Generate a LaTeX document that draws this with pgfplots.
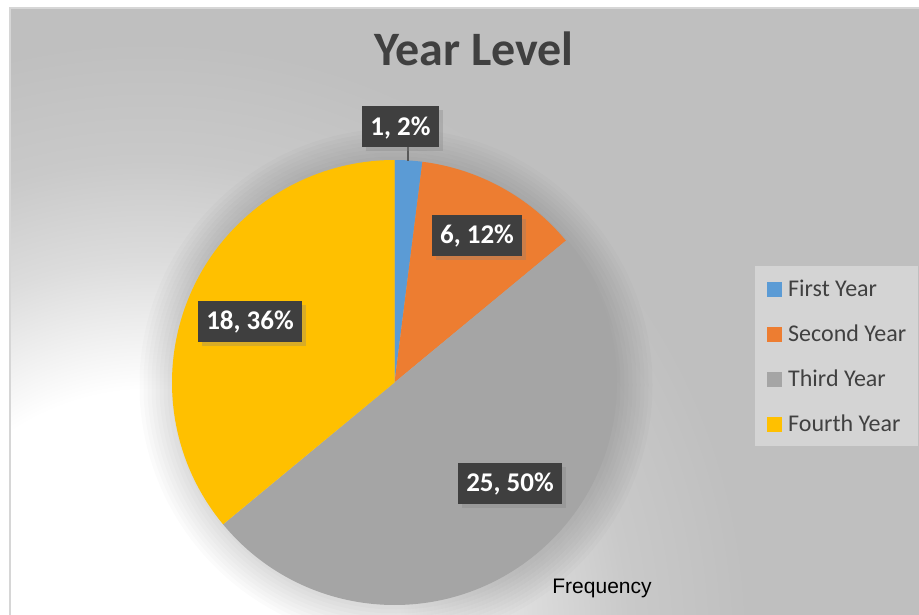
\documentclass[border=0pt]{standalone}
\usepackage{pgfplots}
\pgfplotsset{compat=1.18}
\usepackage{pgfplotstable}
\usepackage{fontspec}
\setmainfont{Carlito}
\newfontfamily\arialfont{Liberation Sans}
\usetikzlibrary{shadows}

\definecolor{cFirst}{HTML}{5B9BD5}
\definecolor{cSecond}{HTML}{ED7D31}
\definecolor{cThird}{HTML}{A5A5A5}
\definecolor{cFourth}{HTML}{FFC000}
\definecolor{chartbg}{HTML}{BFBFBF}
\definecolor{glowA}{HTML}{DCDCDC}
\definecolor{glowB}{HTML}{C9C9C9}
\definecolor{labelbg}{HTML}{3F3F3F}
\definecolor{textgray}{HTML}{404040}
\definecolor{legendbg}{HTML}{D4D4D4}
\definecolor{framegray}{HTML}{D6D6D6}

% white glow in the lower left of the chart area, used at its natural size
\pgfdeclareradialshading{glow}{\pgfpoint{0bp}{0bp}}{color(0bp)=(white); color(125bp)=(white); color(190bp)=(glowA); color(240bp)=(glowB); color(300bp)=(chartbg); color(320bp)=(chartbg)}

\pgfplotstableread{
year   count
First  1
Second 6
Third  25
Fourth 18
}\yeartable

% one slice of the pie, angles taken from the table
\def\pieslice#1#2{\fill[#2] (axis cs:394.5,382.5) -- ++(\csname angS#1\endcsname:111.25bp)
  arc[start angle=\csname angS#1\endcsname, end angle=\csname angE#1\endcsname, radius=111.25bp] -- cycle;}

\tikzset{datalabel/.style={fill=labelbg, text=white,
  font=\fontsize{13.5bp}{16bp}\selectfont\bfseries,
  inner xsep=4bp, inner ysep=5.9bp, text height=8.7bp, text depth=0bp,
  drop shadow={shadow xshift=2bp, shadow yshift=-2bp, opacity=0.3}}}

\begin{document}
\begin{tikzpicture}
% total and slice angles, clockwise from twelve o'clock
\xdef\total{0}
\foreach \i in {0,...,3}{
  \pgfplotstablegetelem{\i}{count}\of\yeartable
  \pgfmathsetmacro\tmpsum{\total+\pgfplotsretval}
  \xdef\total{\tmpsum}
}
\xdef\cum{90}
\foreach \i in {0,...,3}{
  \pgfplotstablegetelem{\i}{count}\of\yeartable
  \pgfmathsetmacro\nxt{\cum-360*\pgfplotsretval/\total}
  \expandafter\xdef\csname angS\i\endcsname{\cum}
  \expandafter\xdef\csname angE\i\endcsname{\nxt}
  \xdef\cum{\nxt}
}

\begin{axis}[
  at={(0,0)}, anchor=south west,
  width=459.5bp, height=307.5bp, scale only axis,
  xmin=0, xmax=919, ymin=0, ymax=615, y dir=reverse,
  axis lines=none, ticks=none, clip=false,
  axis background/.style={fill=white},
  title={Year Level},
  title style={at={(axis cs:474,77)}, anchor=base, inner sep=0pt,
    font=\fontsize{24bp}{28bp}\selectfont\bfseries, text=textgray},
  legend cell align=left,
  legend style={at={(axis cs:755,266)}, anchor=north west, fill=legendbg, draw=none,
    inner xsep=6bp, inner ysep=0bp, row sep=0pt,
    font=\fontsize{12bp}{14bp}\selectfont, text=textgray,
    nodes={inner sep=0pt, text height=15.15bp, text depth=7.35bp},
    /tikz/every odd column/.append style={column sep=3bp}},
]
% chart area
\fill[chartbg] (axis cs:10,8) rectangle (axis cs:919,615);
\begin{scope}
  \clip (axis cs:10,8) rectangle (axis cs:919,615);
  \node[inner sep=0pt, outer sep=0pt] at (axis cs:150,640) {\pgfuseshading{glow}};
\end{scope}
\draw[framegray, line width=0.75bp] (axis cs:10,615) -- (axis cs:10,8) -- (axis cs:919,8);

% soft shadow of the pie
\pgfplotsinvokeforeach{34,30,...,2}{
  \fill[black, opacity=0.016] (axis cs:396,385) circle[radius={111.25bp+#1*0.5bp}];
}

\pieslice{0}{cFirst}
\pieslice{1}{cSecond}
\pieslice{2}{cThird}
\pieslice{3}{cFourth}

\draw[gray!70!black, line width=0.6bp] (axis cs:408,147) -- (axis cs:408,161);
\node[datalabel] at (axis cs:400.5,126.5) {1, 2\%};
\node[datalabel] at (axis cs:477,235) {6, 12\%};
\node[datalabel] at (axis cs:510,483) {25, 50\%};
\node[datalabel] at (axis cs:250,321) {18, 36\%};

\node[anchor=base, inner sep=0pt, font=\arialfont\fontsize{10.5bp}{12bp}\selectfont]
  at (axis cs:602,593) {Frequency};

\addlegendimage{legend image code/.code={\fill[cFirst] (0bp,-3.5bp) rectangle (7bp,3.5bp);}}
\addlegendentry{First Year}
\addlegendimage{legend image code/.code={\fill[cSecond] (0bp,-3.5bp) rectangle (7bp,3.5bp);}}
\addlegendentry{Second Year}
\addlegendimage{legend image code/.code={\fill[cThird] (0bp,-3.5bp) rectangle (7bp,3.5bp);}}
\addlegendentry{Third Year}
\addlegendimage{legend image code/.code={\fill[cFourth] (0bp,-3.5bp) rectangle (7bp,3.5bp);}}
\addlegendentry{Fourth Year}
\end{axis}
\pgfresetboundingbox
\useasboundingbox (0,0) rectangle (459.5bp,307.5bp);
\end{tikzpicture}
\end{document}
